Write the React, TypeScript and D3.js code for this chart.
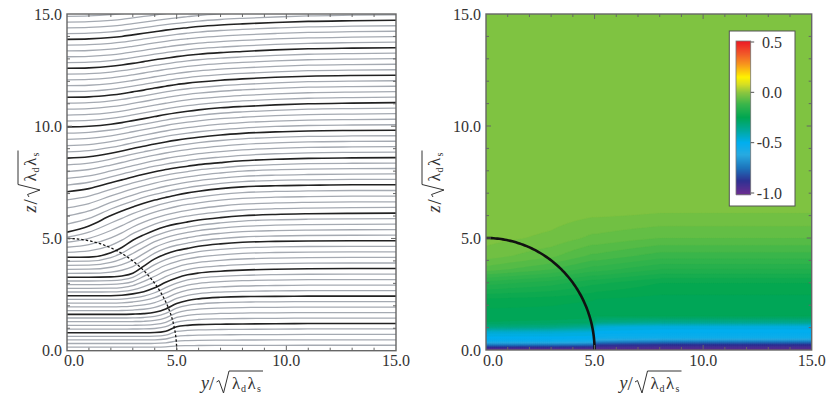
import React, { useMemo } from 'react';
import * as d3 from 'd3';

// ---------- data ----------
const AXIS_MAJOR = [0, 5, 10, 15];
const AXIS_LABELS = ['0.0', '5.0', '10.0', '15.0'];
const AXIS_MINOR = [1, 2, 3, 4, 6, 7, 8, 9, 11, 12, 13, 14];
const CIRCLE_RADIUS = 5;

// stations along y at which each flux line's height z is read
const STREAM_Y = [0, 1, 2, 2.5, 3, 3.5, 4, 4.5, 5, 5.5, 6, 7, 8, 9.5, 11, 13, 15];
const FLUX_LINE_0 = [0, 0, 0, 0, 0, 0, 0, 0, 0, 0, 0, 0, 0, 0, 0, 0, 0];
const FLUX_LINE_1 = [0.80, 0.80, 0.80, 0.80, 0.80, 0.80, 0.81, 0.87, 1.07, 1.13, 1.16, 1.18, 1.19, 1.20, 1.21, 1.21, 1.21];
const FLUX_LINE_2 = [1.62, 1.62, 1.62, 1.62, 1.63, 1.65, 1.71, 1.86, 2.10, 2.24, 2.31, 2.38, 2.41, 2.42, 2.43, 2.43, 2.43];
const FLUX_LINE_3 = [2.45, 2.45, 2.45, 2.47, 2.53, 2.63, 2.80, 3.05, 3.24, 3.38, 3.46, 3.54, 3.59, 3.63, 3.65, 3.66, 3.66];
const FLUX_LINE_4 = [3.27, 3.27, 3.29, 3.33, 3.45, 3.77, 4.09, 4.31, 4.46, 4.56, 4.65, 4.76, 4.83, 4.87, 4.89, 4.90, 4.90];
const FLUX_LINE_5 = [4.16, 4.17, 4.36, 4.60, 4.92, 5.16, 5.37, 5.53, 5.65, 5.74, 5.82, 5.93, 6.01, 6.07, 6.10, 6.12, 6.13];
const FLUX_LINE_6 = [5.28, 5.56, 6.02, 6.22, 6.40, 6.57, 6.71, 6.83, 6.94, 7.03, 7.10, 7.22, 7.30, 7.35, 7.37, 7.39, 7.39];
const FLUX_LINE_7 = [7.08, 7.22, 7.48, 7.61, 7.74, 7.86, 7.97, 8.07, 8.15, 8.22, 8.29, 8.38, 8.46, 8.53, 8.57, 8.59, 8.60];
const FLUX_LINE_8 = [8.58, 8.64, 8.80, 8.90, 9.01, 9.11, 9.21, 9.30, 9.38, 9.45, 9.51, 9.61, 9.68, 9.75, 9.79, 9.81, 9.82];
const FLUX_LINE_9 = [9.97, 10.00, 10.09, 10.16, 10.25, 10.34, 10.43, 10.52, 10.60, 10.67, 10.73, 10.82, 10.88, 10.95, 11.00, 11.03, 11.05];
const FLUX_LINE_10 = [11.29, 11.31, 11.39, 11.45, 11.53, 11.61, 11.70, 11.78, 11.86, 11.92, 11.97, 12.05, 12.11, 12.18, 12.23, 12.26, 12.27];
const FLUX_LINE_11 = [12.58, 12.60, 12.67, 12.73, 12.80, 12.88, 12.96, 13.03, 13.10, 13.16, 13.21, 13.28, 13.33, 13.40, 13.45, 13.48, 13.50];
const FLUX_LINE_12 = [13.87, 13.89, 13.95, 14.00, 14.07, 14.14, 14.21, 14.28, 14.34, 14.39, 14.44, 14.51, 14.56, 14.62, 14.67, 14.70, 14.72];
const FLUX_LINE_13 = [15.15, 15.17, 15.23, 15.27, 15.33, 15.39, 15.45, 15.51, 15.57, 15.62, 15.67, 15.74, 15.79, 15.85, 15.90, 15.93, 15.95];
const FLUX_LINES = [FLUX_LINE_0, FLUX_LINE_1, FLUX_LINE_2, FLUX_LINE_3, FLUX_LINE_4, FLUX_LINE_5, FLUX_LINE_6,
  FLUX_LINE_7, FLUX_LINE_8, FLUX_LINE_9, FLUX_LINE_10, FLUX_LINE_11, FLUX_LINE_12, FLUX_LINE_13];
const MINOR_PER_INTERVAL = 4;

// potential field (right panel): rows at HEAT_Y, columns at HEAT_Z
const HEAT_Y = [0, 3, 4.9, 5.1, 8, 15];
const HEAT_Z = [0, 0.1, 0.25, 0.4, 0.55, 0.8, 1.05, 1.25, 1.5, 2.2, 3.0, 3.6, 4.2, 5.0, 6.0, 7.0, 15];
const HEAT_ROW_Y0 = [-1.0, -0.93, -0.72, -0.54, -0.5, -0.46, -0.32, -0.27, -0.26, -0.24, -0.16, -0.08, -0.04, -0.022, -0.015, -0.015, -0.015];
const HEAT_ROW_Y3 = [-1.0, -0.93, -0.73, -0.54, -0.5, -0.46, -0.33, -0.275, -0.26, -0.245, -0.18, -0.11, -0.065, -0.035, -0.02, -0.015, -0.015];
const HEAT_ROW_Y49 = [-1.0, -0.94, -0.75, -0.56, -0.5, -0.47, -0.36, -0.28, -0.265, -0.25, -0.205, -0.14, -0.095, -0.055, -0.028, -0.015, -0.015];
const HEAT_ROW_Y51 = [-1.0, -0.95, -0.85, -0.68, -0.54, -0.5, -0.46, -0.33, -0.27, -0.255, -0.205, -0.14, -0.095, -0.055, -0.028, -0.015, -0.015];
const HEAT_ROW_Y8 = [-1.0, -0.95, -0.87, -0.71, -0.55, -0.5, -0.48, -0.35, -0.27, -0.26, -0.23, -0.17, -0.12, -0.07, -0.032, -0.015, -0.015];
const HEAT_ROW_Y15 = [-1.0, -0.95, -0.87, -0.71, -0.55, -0.5, -0.48, -0.35, -0.27, -0.26, -0.23, -0.17, -0.12, -0.07, -0.032, -0.015, -0.015];
const HEAT_ROWS = [HEAT_ROW_Y0, HEAT_ROW_Y3, HEAT_ROW_Y49, HEAT_ROW_Y51, HEAT_ROW_Y8, HEAT_ROW_Y15];

const COLOR_STOPS = [-1.0, -0.88, -0.75, -0.62, -0.5, -0.38, -0.25, -0.12, 0.0, 0.08, 0.15, 0.28, 0.38, 0.5];
const COLOR_HEX = ['#662d91', '#2e3192', '#1c75bc', '#27aae1', '#00aeef', '#00a99d', '#00a651', '#39b54a',
  '#8dc63f', '#d7df23', '#fff200', '#f7941d', '#f15a29', '#ed1c24'];
const COLORBAR_TICKS = [0.5, 0.0, -0.5, -1.0];
const COLORBAR_LABELS = ['0.5', '0.0', '-0.5', '-1.0'];

// ---------- helpers ----------
const FONT = "'Liberation Serif','Times New Roman',serif";
const TXT = '#333';
const FRAME = '#666';

const colorScale = d3.scaleLinear<string>().domain(COLOR_STOPS).range(COLOR_HEX).interpolate(d3.interpolateRgb).clamp(true);

function locate(arr: number[], v: number) {
  let i = d3.bisectRight(arr, v) - 1;
  i = Math.max(0, Math.min(arr.length - 2, i));
  const t = Math.max(0, Math.min(1, (v - arr[i]) / (arr[i + 1] - arr[i])));
  return [i, t];
}

function sampleHeat(y: number, z: number) {
  const [iy, ty] = locate(HEAT_Y, y);
  const [iz, tz] = locate(HEAT_Z, z);
  const a = HEAT_ROWS[iy], b = HEAT_ROWS[iy + 1];
  const va = a[iz] + (a[iz + 1] - a[iz]) * tz;
  const vb = b[iz] + (b[iz + 1] - b[iz]) * tz;
  return va + (vb - va) * ty;
}

function Frame({ xs, ys }: { xs: any; ys: any }) {
  const [x0, x1] = xs.range();
  const [yb, yt] = ys.range();
  const items: any[] = [];
  const add = (v: number, len: number, key: string) => {
    const px = xs(v), py = ys(v);
    items.push(<line key={key + 'b'} x1={px} x2={px} y1={yb} y2={yb - len} />);
    items.push(<line key={key + 't'} x1={px} x2={px} y1={yt} y2={yt + len} />);
    items.push(<line key={key + 'l'} x1={x0} x2={x0 + len} y1={py} y2={py} />);
    items.push(<line key={key + 'r'} x1={x1} x2={x1 - len} y1={py} y2={py} />);
  };
  AXIS_MINOR.forEach((v) => add(v, 3, 'm' + v));
  AXIS_MAJOR.slice(1, 3).forEach((v) => add(v, 5, 'M' + v));
  return (
    <g stroke={FRAME} strokeWidth={1}>
      {items}
      <rect x={x0} y={yt} width={x1 - x0} height={yb - yt} fill="none" strokeWidth={1.4} />
    </g>
  );
}

function TickLabels({ xs, ys }: { xs: any; ys: any }) {
  const [x0] = xs.range();
  const [yb] = ys.range();
  return (
    <g fontFamily={FONT} fontSize={16} fill={TXT}>
      {AXIS_MAJOR.map((v, i) => (
        <text key={'x' + v} x={xs(v) + (i === 0 ? 7 : 0)} y={yb + 15.5} textAnchor="middle">{AXIS_LABELS[i]}</text>
      ))}
      {AXIS_MAJOR.map((v, i) => (
        <text key={'y' + v} x={x0 - 5} y={ys(v)} dy="0.35em" textAnchor="end">{AXIS_LABELS[i]}</text>
      ))}
    </g>
  );
}

function AxisTitle({ x, y, variable, rotate }: { x: number; y: number; variable: string; rotate?: boolean }) {
  return (
    <g transform={`translate(${x},${y})${rotate ? ' rotate(-90)' : ''}`} fontFamily={FONT} fill={TXT}>
      <text x={-30.5} y={0} fontSize={18} fontStyle="italic">{variable}</text>
      <text x={-22.5} y={1} fontSize={19}>/</text>
      <path d="M-15,-7 L-12.5,-8.5 L-8,4 L-2.5,-18 L31.5,-18" fill="none" stroke={TXT} strokeWidth={1} />
      <text x={0.5} y={0} fontSize={17}>λ</text>
      <text x={9.5} y={3} fontSize={10}>d</text>
      <text x={16} y={0} fontSize={17}>λ</text>
      <text x={25.5} y={3} fontSize={10}>s</text>
    </g>
  );
}

export default function App() {
  const W = 827, H = 398;
  const xL = d3.scaleLinear().domain([0, 15]).range([67, 396]);
  const yL = d3.scaleLinear().domain([0, 15]).range([350.7, 14]);
  const xR = d3.scaleLinear().domain([0, 15]).range([486, 811.7]);
  const yR = d3.scaleLinear().domain([0, 15]).range([350, 14]);

  const lineL = d3.line<[number, number]>().x((d) => xL(d[0])).y((d) => yL(d[1])).curve(d3.curveMonotoneX);

  const streams = useMemo(() => {
    const grey: string[] = [];
    const black: string[] = [];
    for (let k = 0; k < FLUX_LINES.length - 1; k++) {
      const a = FLUX_LINES[k], b = FLUX_LINES[k + 1];
      for (let j = 1; j <= MINOR_PER_INTERVAL; j++) {
        const f = j / (MINOR_PER_INTERVAL + 1);
        grey.push(lineL(STREAM_Y.map((y, i) => [y, a[i] + (b[i] - a[i]) * f] as [number, number])) as string);
      }
      black.push(lineL(STREAM_Y.map((y, i) => [y, b[i]] as [number, number])) as string);
    }
    return { grey, black };
  }, []);

  const angles = d3.range(0, 91, 1).map((a) => (a * Math.PI) / 180);
  const circleL = d3.line<number>().x((a) => xL(CIRCLE_RADIUS * Math.cos(a))).y((a) => yL(CIRCLE_RADIUS * Math.sin(a)))(angles) as string;
  const circleR = d3.line<number>().x((a) => xR(CIRCLE_RADIUS * Math.cos(a))).y((a) => yR(CIRCLE_RADIUS * Math.sin(a)))(angles) as string;

  const bands = useMemo(() => {
    const NX = 160, NZ = 320;
    const values = new Array(NX * NZ);
    for (let j = 0; j < NZ; j++) {
      for (let i = 0; i < NX; i++) {
        values[j * NX + i] = sampleHeat((i / (NX - 1)) * 15, (j / (NZ - 1)) * 15);
      }
    }
    const thresholds = d3.range(-1.05, 0.05, 0.02);
    const contours = d3.contours().size([NX, NZ]).thresholds(thresholds)(values);
    const proj = d3.geoTransform({
      point(this: any, x: number, y: number) {
        this.stream.point(xR(((x - 0.5) / (NX - 1)) * 15), yR(((y - 0.5) / (NZ - 1)) * 15));
      },
    });
    const path = d3.geoPath(proj);
    return contours.map((c) => ({ d: path(c as any) as string, fill: colorScale(c.value + 0.01) }));
  }, []);

  // colorbar
  const cbScale = d3.scaleLinear().domain([-1.0, 0.5]).range([193, 42]);
  const cbRows = d3.range(41, 194.5, 1);
  const cbX0 = 736, cbX1 = 750.7;

  return (
    <svg width={W} height={H} style={{ position: 'absolute', left: 0, top: 0, background: '#fff' }}>
      <defs>
        <clipPath id="clipL"><rect x={67} y={14} width={329} height={336.7} /></clipPath>
        <clipPath id="clipR"><rect x={486} y={14} width={325.7} height={336} /></clipPath>
      </defs>

      {/* left panel: flux lines */}
      <g clipPath="url(#clipL)" fill="none">
        {streams.grey.map((d, i) => (<path key={'g' + i} d={d} stroke="#a5aab2" strokeWidth={1.3} />))}
        {streams.black.map((d, i) => (<path key={'k' + i} d={d} stroke="#222" strokeWidth={1.6} />))}
        <path d={circleL} stroke="#111" strokeWidth={1.3} strokeDasharray="2.5,2" />
      </g>
      <Frame xs={xL} ys={yL} />
      <TickLabels xs={xL} ys={yL} />
      <AxisTitle x={231.5} y={389} variable="y" />
      <AxisTitle x={36} y={182} variable="z" rotate />

      {/* right panel: potential map */}
      <g clipPath="url(#clipR)">
        {bands.map((b, i) => (<path key={'b' + i} d={b.d} fill={b.fill} stroke={b.fill} strokeWidth={0.3} />))}
        <path d={circleR} fill="none" stroke="#111" strokeWidth={2.6} />
      </g>
      <Frame xs={xR} ys={yR} />
      <TickLabels xs={xR} ys={yR} />
      <AxisTitle x={650} y={389} variable="y" />
      <AxisTitle x={440} y={182} variable="z" rotate />

      {/* colorbar */}
      <rect x={729.3} y={31} width={65.7} height={175} fill="#fff" stroke="#555" strokeWidth={1} />
      {cbRows.map((y) => (
        <rect key={'cb' + y} x={cbX0} y={y} width={cbX1 - cbX0} height={1.2} fill={colorScale(cbScale.invert(y + 0.5))} />
      ))}
      <rect x={cbX0} y={41} width={cbX1 - cbX0} height={153.5} fill="none" stroke="#777" strokeWidth={0.8} />
      <g stroke="#555" strokeWidth={1}>
        {COLORBAR_TICKS.map((v) => (<line key={'ct' + v} x1={cbX1} x2={cbX1 + 3.5} y1={cbScale(v)} y2={cbScale(v)} />))}
      </g>
      <g fontFamily={FONT} fontSize={16} fill={TXT}>
        {COLORBAR_TICKS.map((v, i) => (
          <text key={'cl' + v} x={782} y={cbScale(v)} dy="0.35em" textAnchor="end">{COLORBAR_LABELS[i]}</text>
        ))}
      </g>
    </svg>
  );
}
